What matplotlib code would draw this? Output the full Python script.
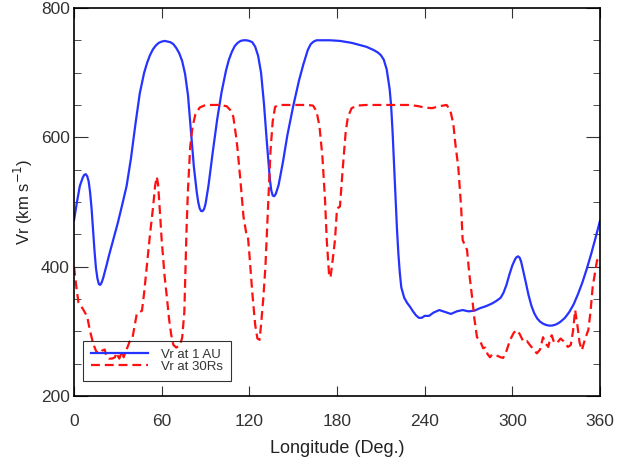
import matplotlib
matplotlib.use('Agg')
import matplotlib.pyplot as plt
from matplotlib.ticker import MultipleLocator

plt.rcParams['font.family'] = ['Liberation Sans', 'DejaVu Sans']

# Vr at 1 AU (solid blue)
lon_1au = [0, 2, 4, 6, 7, 8, 9, 10, 11, 12, 13, 14, 15, 16, 17, 18, 19, 20, 22, 24,
           27, 30, 33, 36, 39, 42, 45, 48, 50, 52, 54, 56, 58, 60, 62, 64, 66, 68, 70, 72,
           74, 76, 78, 80, 82, 84, 85, 86, 87, 88, 89, 90, 92, 95, 98, 101, 104, 106, 108, 110,
           112, 114, 116, 118, 120, 122, 124, 126, 128, 130, 132, 134, 135, 136, 137, 138, 140, 143, 146, 150,
           154, 157, 160, 162, 164, 166, 170, 175, 182, 190, 200, 205, 208, 210, 212, 214, 216, 217, 218, 219,
           220, 221, 222, 223, 224, 226, 228, 230, 232, 234, 236, 238, 240, 243, 246, 250, 254, 258, 262, 266,
           270, 274, 278, 282, 286, 289, 292, 294, 296, 298, 300, 302, 303, 304, 305, 306, 307, 309, 311, 313,
           315, 317, 319, 321, 323, 325, 327, 329, 331, 333, 336, 339, 342, 345, 348, 351, 354, 357, 360]
vr_1au = [472, 500, 525, 538, 542, 543, 540, 532, 515, 490, 458, 425, 398, 382, 373, 372, 376, 383, 400, 418,
          443, 468, 496, 525, 568, 620, 668, 700, 715, 727, 736, 742, 746, 748, 749, 748, 747, 744, 738, 730,
          718, 698, 665, 610, 555, 515, 500, 490, 486, 486, 489, 497, 525, 578, 628, 670, 703, 720, 732, 741,
          746, 749, 750, 750, 749, 747, 740, 726, 700, 652, 592, 536, 518, 510, 509, 512, 526, 562, 603, 648,
          688, 713, 735, 744, 748, 750, 750, 750, 749, 746, 740, 735, 731, 727, 720, 705, 675, 650, 610, 560,
          510, 460, 420, 390, 368, 352, 344, 338, 331, 325, 321, 321, 324, 324, 329, 333, 330, 327, 331, 333,
          331, 332, 336, 339, 343, 347, 352, 360, 372, 388, 402, 412, 415, 416, 414, 408, 398, 378, 357, 340,
          328, 320, 315, 312, 310, 309, 309, 310, 312, 315, 321, 330, 342, 358, 376, 397, 420, 445, 471]

# Vr at 30 Rs (dashed red)
lon_30rs = [0, 1.5, 3, 6, 9, 11, 13, 15, 17, 19, 21, 22, 24, 26, 28, 29, 30, 31, 32, 33,
            34, 35, 37, 38, 40, 42, 43, 45, 46.5, 48, 50, 52, 54, 55.5, 56.6, 57.5, 58.5, 60, 62, 63.5, 65, 66.5,
            68, 70, 72.5, 74, 75.5, 77, 78, 79.5, 81, 83, 86, 90, 95, 100, 104.5, 107, 109, 111, 112, 114,
            116, 118, 119, 120, 122, 124, 125.5, 127, 128, 129.5, 131, 132, 133, 134.5, 136, 137.6, 140, 150, 160, 163.6,
            166, 168, 170, 171.8, 173, 174.5, 175.5, 177, 178.6, 180, 182, 184, 186, 187.5, 190, 193.6, 200, 210, 220, 230,
            236, 240, 245, 250, 255, 257.5, 259.6, 261, 263, 265, 266, 269, 270.5, 272.4, 274, 275.8, 278, 280,
            281.5, 283, 284.7, 286, 288, 290, 292, 293.7, 296, 298.5, 301, 303, 305, 307.6, 310, 312, 314.5, 316.8,
            319, 321, 322.5, 324.6, 326, 327, 328.5, 330.6, 333, 335, 338, 340, 341.5, 343, 344.5, 346, 347.6, 350,
            352, 353.5, 355, 356.5, 358, 359, 360]
vr_30rs = [400, 370, 345, 335, 323, 300, 282, 270, 265, 270, 272, 262, 258, 258, 260, 267, 262, 258, 264, 270,
           260, 267, 278, 284, 290, 315, 328, 330, 332, 360, 405, 450, 490, 525, 539, 528, 495, 441, 385, 354, 320, 295,
           279, 275, 279, 290, 330, 457, 520, 585, 615, 635, 646, 650, 650, 650, 648, 642, 632, 600, 580, 530,
           477, 450, 447, 420, 360, 310, 289, 287, 310, 350, 400, 452, 503, 580, 625, 647, 650, 650, 650, 649,
           640, 617, 570, 503, 440, 390, 383, 410, 441, 490, 493, 554, 610, 632, 645, 649, 650, 650, 650, 650,
           648, 646, 645, 648, 650, 642, 621, 590, 554, 490, 441, 426, 390, 354, 320, 291, 285, 274,
           275, 265, 260, 264, 264, 262, 260, 259, 270, 287, 298, 302, 296, 284, 285, 279, 272, 266,
           272, 291, 282, 276, 290, 294, 283, 282, 289, 285, 276, 279, 300, 333, 310, 283, 271, 290,
           302, 330, 369, 390, 410, 412, 407]

fig = plt.figure(figsize=(6.19, 4.66), dpi=100)
ax = fig.add_axes([0.1196, 0.150, 0.8497, 0.833])

ax.plot(lon_1au, vr_1au, color='#2633ff', lw=1.6, label='Vr at 1 AU')
ax.plot(lon_30rs, vr_30rs, color='#ff1010', lw=1.6, ls=(0, (4, 2.2)), label='Vr at 30Rs')

ax.set_xlim(0, 360)
ax.set_ylim(200, 800)
ax.xaxis.set_major_locator(MultipleLocator(60))
ax.yaxis.set_major_locator(MultipleLocator(200))
ax.yaxis.set_minor_locator(MultipleLocator(50))
ax.tick_params(which='both', direction='in', top=True, right=True, labelsize=12.5,
               labelcolor='#333333', color='#333333')
ax.tick_params(axis='x', which='major', length=7, pad=13)
ax.tick_params(axis='y', which='major', length=10, pad=3)
ax.tick_params(axis='y', which='minor', length=5)
for s in ax.spines.values():
    s.set_linewidth(1.2)

ax.set_xlabel('Longitude (Deg.)', fontsize=13, color='#222222', labelpad=8)
ax.set_ylabel('Vr (km s$^{-1}$)', fontsize=12, color='#222222', labelpad=4)

leg = ax.legend(loc='lower left', bbox_to_anchor=(0.017, 0.039), fontsize=9.5,
                frameon=True, fancybox=False, facecolor='none', edgecolor='black',
                handlelength=4.3, borderpad=0.6, labelspacing=0.0, handletextpad=1.0,
                borderaxespad=0)
leg.get_frame().set_linewidth(0.8)
for t in leg.get_texts():
    t.set_color('#333333')

fig.savefig('out.png', dpi=100)
